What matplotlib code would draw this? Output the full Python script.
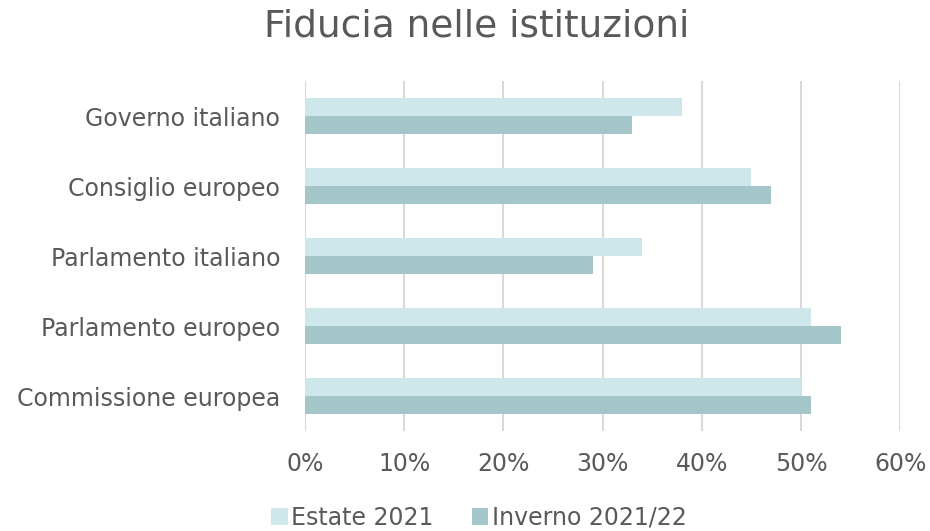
import numpy as np
import matplotlib.pyplot as plt

categories = ["Governo italiano", "Consiglio europeo", "Parlamento italiano",
              "Parlamento europeo", "Commissione europea"]
estate = [38, 45, 34, 51, 50]
inverno = [33, 47, 29, 54, 51]
xticks = [0, 10, 20, 30, 40, 50, 60]

plt.rcParams['font.family'] = ['DejaVu Sans']
text_col = "#595959"

fig = plt.figure(figsize=(9.3, 5.31), dpi=100)
ax = fig.add_axes([0.328, 0.188, 0.64, 0.659])

y = np.arange(len(categories))
h = 0.257
ax.barh(y - h / 2, estate, height=h, color="#CDE7EA", label="Estate 2021", zorder=3)
ax.barh(y + h / 2, inverno, height=h, color="#A5C6C8", label="Inverno 2021/22", zorder=3)

ax.set_ylim(len(categories) - 0.5, -0.5)
ax.set_xlim(0, 60)
ax.set_xticks(xticks)
ax.set_xticklabels([f"{v}%" for v in xticks])
ax.set_yticks(y)
ax.set_yticklabels(categories)
ax.tick_params(axis="both", length=0, labelsize=17, colors=text_col)
ax.tick_params(axis="x", pad=15)
ax.tick_params(axis="y", pad=18)
ax.grid(axis="x", color="#D9D9D9", linewidth=1.5, zorder=0)
for s in ax.spines.values():
    s.set_visible(False)

fig.text(0.513, 0.95, "Fiducia nelle istituzioni", ha="center", va="center",
         fontsize=27, color=text_col)
fig.legend(loc="lower center", bbox_to_anchor=(0.515, -0.038), ncol=2, frameon=False,
           fontsize=17, labelcolor=text_col, handlelength=0.7, handleheight=0.7,
           handletextpad=0.15, columnspacing=1.6)

fig.savefig("out.png", dpi=100)
